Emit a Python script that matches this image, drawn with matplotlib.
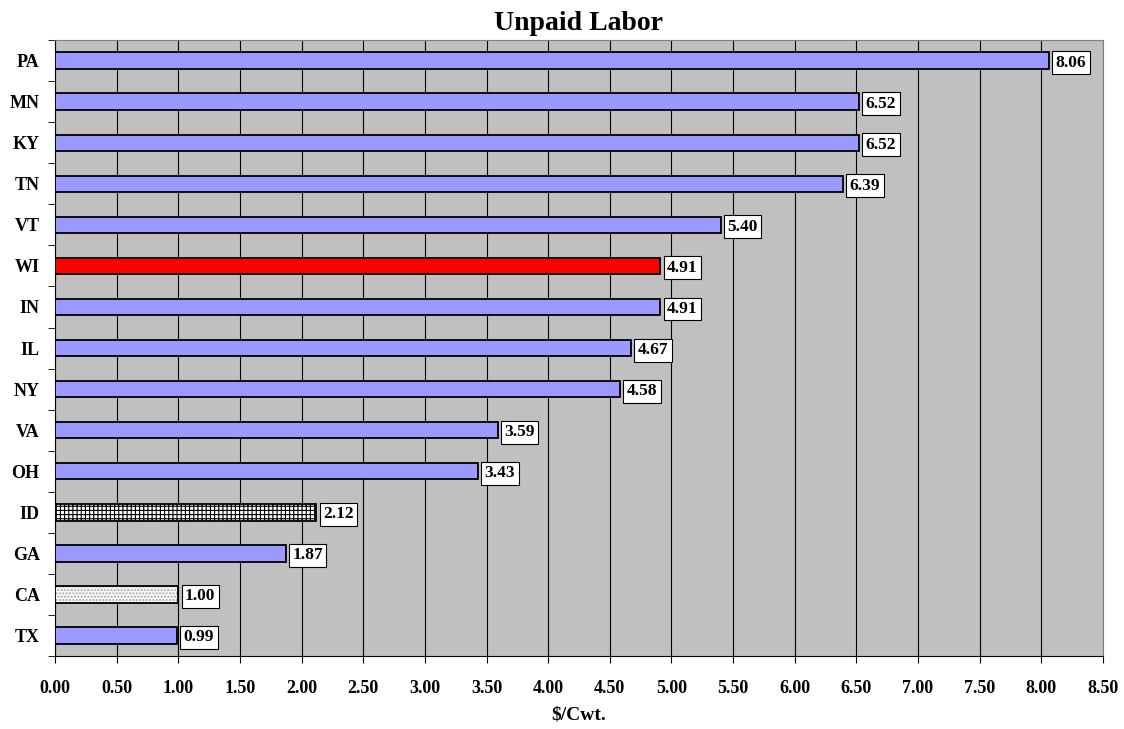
import matplotlib.pyplot as plt
import matplotlib as mpl
import numpy as np

plt.rcParams['font.family'] = ['Liberation Serif', 'DejaVu Serif']
plt.rcParams['font.weight'] = 'bold'

# data, top to bottom
states = ['PA', 'MN', 'KY', 'TN', 'VT', 'WI', 'IN', 'IL', 'NY', 'VA', 'OH', 'ID', 'GA', 'CA', 'TX']
values = [8.06, 6.52, 6.52, 6.39, 5.40, 4.91, 4.91, 4.67, 4.58, 3.59, 3.43, 2.12, 1.87, 1.00, 0.99]
xticks = np.arange(0, 8.51, 0.5)

fig = plt.figure(figsize=(11.24, 7.29), dpi=100)
ax = fig.add_axes([0.0489, 0.1001, 0.9324, 0.8449])
ax.set_facecolor('#C0C0C0')

n = len(states)
ypos = np.arange(n)[::-1]

for i, (s, v) in enumerate(zip(states, values)):
    y = ypos[i]
    if s == 'WI':
        ax.barh(y, v, height=0.4, color='#FF0000', edgecolor='black', linewidth=1.3, zorder=3)
    elif s == 'ID':
        mpl.rcParams['hatch.color'] = 'black'
        mpl.rcParams['hatch.linewidth'] = 0.8
        ax.barh(y, v, height=0.4, color='white', edgecolor='black', hatch='++++', linewidth=0, zorder=3)
        ax.barh(y, v, height=0.4, color='none', edgecolor='black', linewidth=1.3, zorder=4)
    elif s == 'CA':
        ax.barh(y, v, height=0.4, color='#F4F4F4', edgecolor='#A0A0A0', hatch='.....', linewidth=0, zorder=3)
        ax.barh(y, v, height=0.4, color='none', edgecolor='black', linewidth=1.3, zorder=4)
    else:
        ax.barh(y, v, height=0.4, color='#9999FF', edgecolor='black', linewidth=1.3, zorder=3)
    ax.text(v + 0.055, y, '%.2f' % v, va='center_baseline', ha='left', fontsize=12.5, fontweight='bold',
            bbox=dict(boxstyle='square,pad=0.2', facecolor='white', edgecolor='black', linewidth=0.8),
            zorder=5)

ax.set_xlim(0, 8.5)
ax.set_ylim(-0.5, n - 0.5)
ax.set_xticks(xticks)
ax.set_xticklabels(['%.2f' % t for t in xticks], fontsize=13, fontweight='bold')
ax.set_yticks(ypos)
ax.set_yticklabels(states, fontsize=13, fontweight='bold')
ax.set_yticks(np.arange(-0.5, n, 1), minor=True)
ax.tick_params(axis='y', which='major', length=0, pad=11)
ax.tick_params(axis='y', which='minor', length=5, direction='out')
ax.tick_params(axis='x', length=5, direction='out', pad=12)
ax.grid(axis='x', color='black', linewidth=0.8, zorder=1)
ax.set_axisbelow(True)

for sp in ['top', 'right']:
    ax.spines[sp].set_color('#808080')
ax.spines['left'].set_color('black')
ax.spines['bottom'].set_color('black')

ax.set_xlabel('$/Cwt.', fontsize=14, fontweight='bold', labelpad=7)
ax.set_title('Unpaid Labor', fontsize=20, fontweight='bold', pad=7)

fig.savefig('out.png', dpi=100)
